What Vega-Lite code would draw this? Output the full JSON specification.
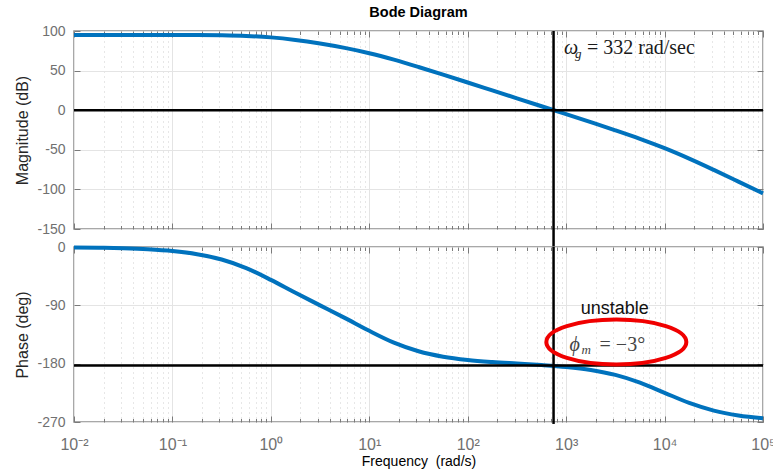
{
  "$schema": "https://vega.github.io/schema/vega-lite/v6.json",
  "padding": {"left": 14, "top": 4, "right": 0, "bottom": 0},
  "bounds": "flush",
  "title": {"text": "Bode Diagram", "anchor": "middle", "frame": "group", "fontSize": 14.5, "fontWeight": "bold", "color": "#000000", "offset": 3, "font": "Liberation Sans"},
  "config": {
    "font": "Liberation Sans",
    "view": {"stroke": "#8c8c8c", "strokeWidth": 1.5},
    "axis": {"domain": false, "labelColor": "#707070", "labelFontSize": 14, "titleColor": "#262626", "titleFontSize": 16, "titleFontWeight": "normal", "tickColor": "#7a7a7a", "gridColor": "#e4e4e4", "gridWidth": 1, "labelFont": "Liberation Sans", "titleFont": "Liberation Sans"}
  },
  "datasets": {
    "bode": [
      {"f": 0.01, "mag": 95.0, "phase": -0.63},
      {"f": 0.01778, "mag": 95.0, "phase": -1.12},
      {"f": 0.03162, "mag": 95.0, "phase": -1.99},
      {"f": 0.05623, "mag": 94.99, "phase": -3.54},
      {"f": 0.1, "mag": 94.96, "phase": -6.28},
      {"f": 0.1778, "mag": 94.86, "phase": -11.10},
      {"f": 0.3162, "mag": 94.58, "phase": -19.36},
      {"f": 0.5623, "mag": 93.79, "phase": -32.58},
      {"f": 1, "mag": 91.95, "phase": -50.71},
      {"f": 1.778, "mag": 88.67, "phase": -70.73},
      {"f": 3.162, "mag": 84.17, "phase": -90.02},
      {"f": 5.623, "mag": 78.67, "phase": -109.31},
      {"f": 10, "mag": 71.95, "phase": -129.35},
      {"f": 17.78, "mag": 63.79, "phase": -147.52},
      {"f": 31.62, "mag": 54.58, "phase": -160.82},
      {"f": 56.23, "mag": 44.86, "phase": -169.22},
      {"f": 100, "mag": 34.96, "phase": -174.29},
      {"f": 177.8, "mag": 24.98, "phase": -177.48},
      {"f": 316.2, "mag": 14.99, "phase": -179.82},
      {"f": 562.3, "mag": 4.99, "phase": -182.10},
      {"f": 1000, "mag": -5.04, "phase": -185.08},
      {"f": 1778, "mag": -15.14, "phase": -189.73},
      {"f": 3162, "mag": -25.41, "phase": -197.35},
      {"f": 5623, "mag": -36.19, "phase": -209.25},
      {"f": 10000, "mag": -48.01, "phase": -224.93},
      {"f": 17783, "mag": -61.19, "phase": -240.61},
      {"f": 31623, "mag": -75.41, "phase": -252.43},
      {"f": 56234, "mag": -90.14, "phase": -259.91},
      {"f": 100000, "mag": -105.04, "phase": -264.28}
    ],
    "cross": [{"f": 745, "mag": 0, "phase": -183}],
    "magNotes": [{"f": 950, "mag": 71, "sym": "ω", "sub": "g", "rest": "= 332 rad/sec"}],
    "phaseNotes": [{"f": 1084, "phase": -160, "sym": "ϕ", "sub": "m", "rest": "= −3°", "word": "unstable", "wf": 3119, "wp": -103.4, "ef": 3236, "ep": -146.6}]
  },
  "spacing": 18,
  "vconcat": [
    {
      "width": 689,
      "height": 198,
      "resolve": {"axis": {"x": "independent", "y": "independent"}},
      "layer": [
        {
          "data": {"name": "bode"},
          "mark": {"type": "line", "color": "#0072BD", "strokeWidth": 4, "interpolate": "monotone"},
          "encoding": {
            "x": {"field": "f", "type": "quantitative", "scale": {"type": "log", "domain": [0.01, 100000]},
                  "axis": {"orient": "bottom", "values": [0.01,0.1,1,10,100,1000,10000,100000], "labels": false, "tickSize": -6, "grid": true, "title": null}},
            "y": {"field": "mag", "type": "quantitative", "scale": {"domain": [-150, 100], "nice": false},
                  "axis": {"orient": "left", "values": [-150,-100,-50,0,50,100], "labelExpr": "'' + datum.value", "tickSize": -6, "labelPadding": 15, "grid": true, "title": "Magnitude (dB)", "titlePadding": 6}}
          }
        },
        {
          "data": {"name": "cross"},
          "mark": {"type": "rule", "color": "#000000", "strokeWidth": 2.5},
          "encoding": {"y": {"field": "mag", "type": "quantitative", "axis": null}}
        },
        {
          "data": {"name": "cross"},
          "mark": {"type": "rule", "color": "#000000", "strokeWidth": 2.5},
          "encoding": {
            "x": {"field": "f", "type": "quantitative", "axis": {"orient": "top", "values": [0.01,0.1,1,10,100,1000,10000,100000], "labels": false, "tickSize": -6, "grid": false, "title": null}},
            "y": {"datum": 100, "axis": null},
            "y2": {"datum": -172.7}
          }
        },
        {
          "data": {"name": "magNotes"},
          "mark": {"type": "text", "font": "Liberation Serif", "fontStyle": "italic", "fontSize": 20, "align": "left", "baseline": "alphabetic", "color": "#1a1a1a"},
          "encoding": {
            "x": {"field": "f", "type": "quantitative", "axis": {"orient": "top", "values": [0.02,0.03,0.04,0.05,0.06,0.07,0.08,0.09,0.2,0.3,0.4,0.5,0.6,0.7,0.8,0.9,2,3,4,5,6,7,8,9,20,30,40,50,60,70,80,90,200,300,400,500,600,700,800,900,2000,3000,4000,5000,6000,7000,8000,9000,20000,30000,40000,50000,60000,70000,80000,90000], "labels": false, "tickSize": -3.5, "grid": false, "title": null}},
            "y": {"field": "mag", "type": "quantitative", "axis": {"orient": "right", "values": [-150,-100,-50,0,50,100], "labels": false, "tickSize": -6, "grid": false, "title": null}},
            "text": {"field": "sym"}
          }
        },
        {
          "data": {"name": "magNotes"},
          "mark": {"type": "text", "font": "Liberation Serif", "fontStyle": "italic", "fontSize": 13, "align": "left", "baseline": "alphabetic", "dx": 11, "dy": 4, "color": "#1a1a1a"},
          "encoding": {
            "x": {"field": "f", "type": "quantitative", "axis": {"orient": "bottom", "values": [0.02,0.03,0.04,0.05,0.06,0.07,0.08,0.09,0.2,0.3,0.4,0.5,0.6,0.7,0.8,0.9,2,3,4,5,6,7,8,9,20,30,40,50,60,70,80,90,200,300,400,500,600,700,800,900,2000,3000,4000,5000,6000,7000,8000,9000,20000,30000,40000,50000,60000,70000,80000,90000], "labels": false, "tickSize": -3.5, "grid": true, "gridDash": [1, 4], "gridColor": "#cfcfcf", "title": null}},
            "y": {"field": "mag", "type": "quantitative", "axis": null},
            "text": {"field": "sub"}
          }
        },
        {
          "data": {"name": "magNotes"},
          "mark": {"type": "text", "font": "Liberation Serif", "fontSize": 20, "align": "left", "baseline": "alphabetic", "dx": 23, "color": "#1a1a1a"},
          "encoding": {
            "x": {"field": "f", "type": "quantitative", "axis": null},
            "y": {"field": "mag", "type": "quantitative", "axis": null},
            "text": {"field": "rest"}
          }
        }
      ]
    },
    {
      "width": 689,
      "height": 175,
      "resolve": {"axis": {"x": "independent", "y": "independent"}},
      "layer": [
        {
          "data": {"name": "bode"},
          "mark": {"type": "line", "color": "#0072BD", "strokeWidth": 4, "interpolate": "monotone"},
          "encoding": {
            "x": {"field": "f", "type": "quantitative", "scale": {"type": "log", "domain": [0.01, 100000]},
                  "axis": {"orient": "bottom", "values": [0.01,0.1,1,10,100,1000,10000,100000], "labelFontSize": 16, "labelPadding": 20, "labelFlush": false, "labelExpr": "datum.value == 0.01 ? '10⁻²' : datum.value == 0.1 ? '10⁻¹' : datum.value == 1 ? '10⁰' : datum.value == 10 ? '10¹' : datum.value == 100 ? '10²' : datum.value == 1000 ? '10³' : datum.value == 10000 ? '10⁴' : '10⁵'", "tickSize": -6, "grid": true, "title": "Frequency\u00a0\u00a0(rad/s)", "titleFontSize": 14, "titleColor": "#000000", "titlePadding": 2}},
            "y": {"field": "phase", "type": "quantitative", "scale": {"domain": [-270, 0], "nice": false},
                  "axis": {"orient": "left", "values": [-270,-180,-90,0], "labelExpr": "'' + datum.value", "tickSize": -6, "labelPadding": 15, "grid": true, "title": "Phase (deg)", "titlePadding": 6}}
          }
        },
        {
          "data": {"name": "cross"},
          "mark": {"type": "rule", "color": "#000000", "strokeWidth": 2.5},
          "encoding": {"y": {"field": "phase", "type": "quantitative", "axis": null}}
        },
        {
          "data": {"name": "cross"},
          "mark": {"type": "rule", "color": "#000000", "strokeWidth": 2.5},
          "encoding": {
            "x": {"field": "f", "type": "quantitative", "axis": {"orient": "top", "values": [0.01,0.1,1,10,100,1000,10000,100000], "labels": false, "tickSize": -6, "grid": false, "title": null}},
            "y": {"datum": 0, "axis": null},
            "y2": {"datum": -273}
          }
        },
        {
          "data": {"name": "phaseNotes"},
          "mark": {"type": "text", "font": "Liberation Serif", "fontStyle": "italic", "fontSize": 20, "align": "left", "baseline": "alphabetic", "color": "#444444"},
          "encoding": {
            "x": {"field": "f", "type": "quantitative", "axis": {"orient": "top", "values": [0.02,0.03,0.04,0.05,0.06,0.07,0.08,0.09,0.2,0.3,0.4,0.5,0.6,0.7,0.8,0.9,2,3,4,5,6,7,8,9,20,30,40,50,60,70,80,90,200,300,400,500,600,700,800,900,2000,3000,4000,5000,6000,7000,8000,9000,20000,30000,40000,50000,60000,70000,80000,90000], "labels": false, "tickSize": -3.5, "grid": false, "title": null}},
            "y": {"field": "phase", "type": "quantitative", "axis": {"orient": "right", "values": [-270,-180,-90,0], "labels": false, "tickSize": -6, "grid": false, "title": null}},
            "text": {"field": "sym"}
          }
        },
        {
          "data": {"name": "phaseNotes"},
          "mark": {"type": "text", "font": "Liberation Serif", "fontStyle": "italic", "fontSize": 13, "align": "left", "baseline": "alphabetic", "dx": 12, "dy": 3, "color": "#444444"},
          "encoding": {
            "x": {"field": "f", "type": "quantitative", "axis": {"orient": "bottom", "values": [0.02,0.03,0.04,0.05,0.06,0.07,0.08,0.09,0.2,0.3,0.4,0.5,0.6,0.7,0.8,0.9,2,3,4,5,6,7,8,9,20,30,40,50,60,70,80,90,200,300,400,500,600,700,800,900,2000,3000,4000,5000,6000,7000,8000,9000,20000,30000,40000,50000,60000,70000,80000,90000], "labels": false, "tickSize": -3.5, "grid": true, "gridDash": [1, 4], "gridColor": "#cfcfcf", "title": null}},
            "y": {"field": "phase", "type": "quantitative", "axis": null},
            "text": {"field": "sub"}
          }
        },
        {
          "data": {"name": "phaseNotes"},
          "mark": {"type": "text", "font": "Liberation Serif", "fontSize": 20, "align": "left", "baseline": "alphabetic", "dx": 30, "color": "#444444"},
          "encoding": {
            "x": {"field": "f", "type": "quantitative", "axis": null},
            "y": {"field": "phase", "type": "quantitative", "axis": null},
            "text": {"field": "rest"}
          }
        },
        {
          "data": {"name": "phaseNotes"},
          "mark": {"type": "text", "font": "Liberation Sans", "fontSize": 18, "align": "center", "baseline": "alphabetic", "color": "#111111"},
          "encoding": {
            "x": {"field": "wf", "type": "quantitative", "axis": null},
            "y": {"field": "wp", "type": "quantitative", "axis": null},
            "text": {"field": "word"}
          }
        },
        {
          "data": {"name": "phaseNotes"},
          "mark": {"type": "point", "shape": "M -1 0 C -1 -0.177 -0.5523 -0.32 0 -0.32 C 0.5523 -0.32 1 -0.177 1 0 C 1 0.177 0.5523 0.32 0 0.32 C -0.5523 0.32 -1 0.177 -1 0 Z", "size": 19600, "filled": false, "stroke": "#f00000", "strokeWidth": 4, "opacity": 1},
          "encoding": {
            "x": {"field": "ef", "type": "quantitative", "axis": null},
            "y": {"field": "ep", "type": "quantitative", "axis": null}
          }
        }
      ]
    }
  ]
}
